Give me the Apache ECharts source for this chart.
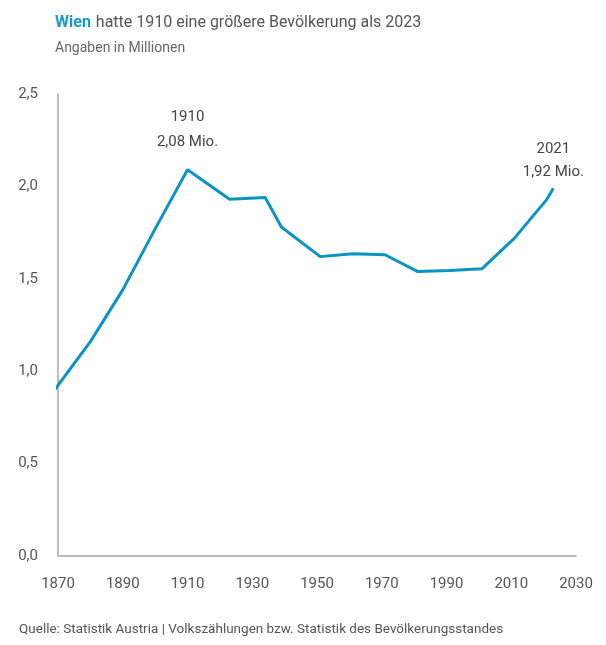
<!DOCTYPE html>
<html><head><meta charset="utf-8">
<script src="https://cdn.jsdelivr.net/npm/echarts@6/dist/echarts.min.js"></script>
<style>html,body{margin:0;padding:0;background:#fff}#c{width:606px;height:645px}</style>
</head><body><div id="c"></div>
<script>
const years = [1869,1880,1890,1900,1910,1923,1934,1939,1951,1961,1971,1981,1991,2001,2011,2021,2023];
const values = [0.90,1.16,1.44,1.77,2.09,1.93,1.94,1.78,1.62,1.635,1.63,1.54,1.545,1.555,1.72,1.93,1.99];
const xTicks = {min:1870, max:2030, interval:20};
const yTicks = {min:0, max:2.5, interval:0.5};
const titleMain = "hatte 1910 eine größere Bevölkerung als 2023";
const subtitle = "Angaben in Millionen";
const source = "Quelle: Statistik Austria | Volkszählungen bzw. Statistik des Bevölkerungsstandes";
const notes = {1910: "1910\n2,08 Mio.", 2023: "2021\n1,92 Mio."};

const FONT = 'Roboto';
const data = years.map((y,i)=>{
  const item = {value:[y, values[i]]};
  if (notes[y]) {
    item.label = {show:true, position:'top', formatter: notes[y],
      distance: y===1910 ? 15 : 4, lineHeight: y===1910 ? 25 : 23,
      fontFamily: FONT, fontSize: 15, color:'#444', align:'center'};
  }
  return item;
});
const chart = echarts.init(document.getElementById('c'), null, {renderer:'canvas'});
chart.setOption({
  animation:false,
  title:[{
    left:50, top:9,
    text:'{a|Wien} {b|' + titleMain + '}',
    textStyle:{rich:{
      a:{fontFamily:FONT, fontSize:16, fontWeight:'bold', color:'#1a98cf'},
      b:{fontFamily:FONT, fontSize:16, fontWeight:'normal', color:'#555'}
    }},
    subtext: subtitle,
    itemGap: 9,
    subtextStyle:{fontFamily:FONT, fontSize:14, color:'#666'}
  },{
    left:14, top:618,
    text: source,
    textStyle:{fontFamily:FONT, fontSize:13.5, fontWeight:'normal', color:'#555'}
  }],
  grid:{left:58, right:30, top:94, bottom:89, containLabel:false},
  xAxis:{type:'value', min:xTicks.min, max:xTicks.max, interval:xTicks.interval,
    axisLine:{show:true, lineStyle:{color:'#bdbdbd', width:2}},
    axisTick:{show:false}, splitLine:{show:false},
    axisLabel:{fontFamily:FONT, fontSize:15, color:'#555', margin:21, formatter:v=>String(v)}},
  yAxis:{type:'value', min:yTicks.min, max:yTicks.max, interval:yTicks.interval,
    axisLine:{show:true, lineStyle:{color:'#bdbdbd', width:2}},
    axisTick:{show:false}, splitLine:{show:false},
    axisLabel:{fontFamily:FONT, fontSize:15, color:'#555', margin:20, formatter:v=>v.toFixed(1).replace('.',',')}},
  series:[{
    type:'line', data:data, clip:true, showSymbol:true, symbol:'circle', symbolSize:0,
    lineStyle:{color:'#0b93c1', width:3}, itemStyle:{color:'#0b93c1'}, z:3
  }]
});
</script></body></html>
